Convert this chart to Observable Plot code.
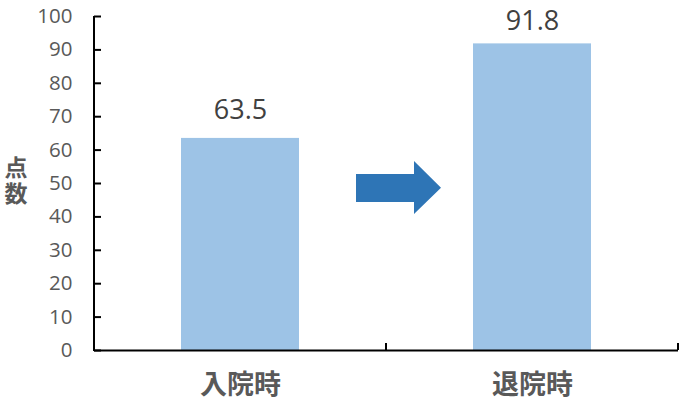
<!DOCTYPE html>
<html><head><meta charset="utf-8">
<script src="https://cdn.jsdelivr.net/npm/d3@7"></script>
<script src="https://cdn.jsdelivr.net/npm/@observablehq/plot@0.6"></script>
<style>body{margin:0;background:#fff;} svg{display:block}</style>
</head><body><div id="chart"></div>
<script>
const categories = ["入院時", "退院時"];
const values = [63.5, 91.8];
const yTicks = [0, 10, 20, 30, 40, 50, 60, 70, 80, 90, 100];
const yLabel = "点数";
const data = categories.map((c, i) => ({cat: c, v: values[i]}));

const W = 695, H = 408;
const mL = 94, mR = 17, mT = 16, mB = 58;

function boundaryTicks(index, scales, values, dim) {
  const ns = "http://www.w3.org/2000/svg";
  const g = document.createElementNS(ns, "g");
  const y0 = scales.y(0);
  const bounds = [dim.marginLeft, (dim.marginLeft + dim.width - dim.marginRight) / 2, dim.width - dim.marginRight];
  bounds.forEach(bx => {
    const l = document.createElementNS(ns, "line");
    l.setAttribute("x1", bx); l.setAttribute("x2", bx);
    l.setAttribute("y1", y0); l.setAttribute("y2", y0 - 7);
    l.setAttribute("stroke", "#000"); l.setAttribute("stroke-width", 2);
    g.appendChild(l);
  });
  return g;
}

function blockArrow(index, scales, values, dim) {
  const ns = "http://www.w3.org/2000/svg";
  const mid = (dim.marginLeft + dim.width - dim.marginRight) / 2;
  const y = scales.y;
  const x0 = mid - 30, xh = mid + 28, xt = mid + 55;
  const sTop = y(52.7), sBot = y(44.3), hTop = y(56.6), hBot = y(40.7), tip = y(48.6);
  const p = document.createElementNS(ns, "path");
  p.setAttribute("d", `M${x0},${sTop}L${xh},${sTop}L${xh},${hTop}L${xt},${tip}L${xh},${hBot}L${xh},${sBot}L${x0},${sBot}Z`);
  p.setAttribute("fill", "#2E75B6");
  return p;
}

function yTitle(index, scales, values, dim) {
  const ns = "http://www.w3.org/2000/svg";
  const t = document.createElementNS(ns, "text");
  const cy = (dim.marginTop + dim.height - dim.marginBottom) / 2 - 1;
  t.setAttribute("x", dim.marginLeft - 78);
  t.setAttribute("y", cy);
  t.setAttribute("text-anchor", "middle");
  t.setAttribute("font-size", 23);
  t.setAttribute("font-weight", "bold");
  t.setAttribute("font-family", "'Noto Sans CJK JP', sans-serif");
  t.setAttribute("fill", "#595959");
  t.style.writingMode = "vertical-rl";
  t.style.letterSpacing = "3px";
  t.textContent = yLabel;
  return t;
}

const labelStyle = {x: "cat", y: "v", text: d => d.v.toFixed(1), lineAnchor: "bottom", fontSize: 27, fill: "#404040"};

const chart = Plot.plot({
  width: W, height: H,
  marginLeft: mL, marginRight: mR, marginTop: mT, marginBottom: mB,
  style: {fontFamily: "'Open Sans', sans-serif", background: "#fff"},
  x: {domain: categories, paddingInner: 0.596, paddingOuter: 0.298, label: null},
  y: {domain: [0, 100], label: null},
  marks: [
    Plot.barY(data, {x: "cat", y: "v", fill: "#9DC3E6"}),
    Plot.text(data.slice(0, 1), {...labelStyle, dy: -19}),
    Plot.text(data.slice(1), {...labelStyle, dy: -14}),
    Plot.axisY({ticks: yTicks, tickSize: -7, tickPadding: 29, tickFormat: d => String(d), fontSize: 20.5, color: "#595959", stroke: "#000", strokeWidth: 2, label: null}),
    Plot.axisX({tickSize: 0, tickPadding: 24, fontSize: 27, fontWeight: "bold", fontFamily: "'Noto Sans CJK JP', sans-serif", color: "#595959", label: null}),
    Plot.ruleY([0], {stroke: "#000", strokeWidth: 2}),
    boundaryTicks,
    blockArrow,
    yTitle
  ]
});
document.getElementById("chart").appendChild(chart);
const svg = d3.select(chart);
svg.append("line").attr("x1", mL).attr("x2", mL).attr("y1", mT).attr("y2", H - mB + 1).attr("stroke", "#000").attr("stroke-width", 2);
</script></body></html>
